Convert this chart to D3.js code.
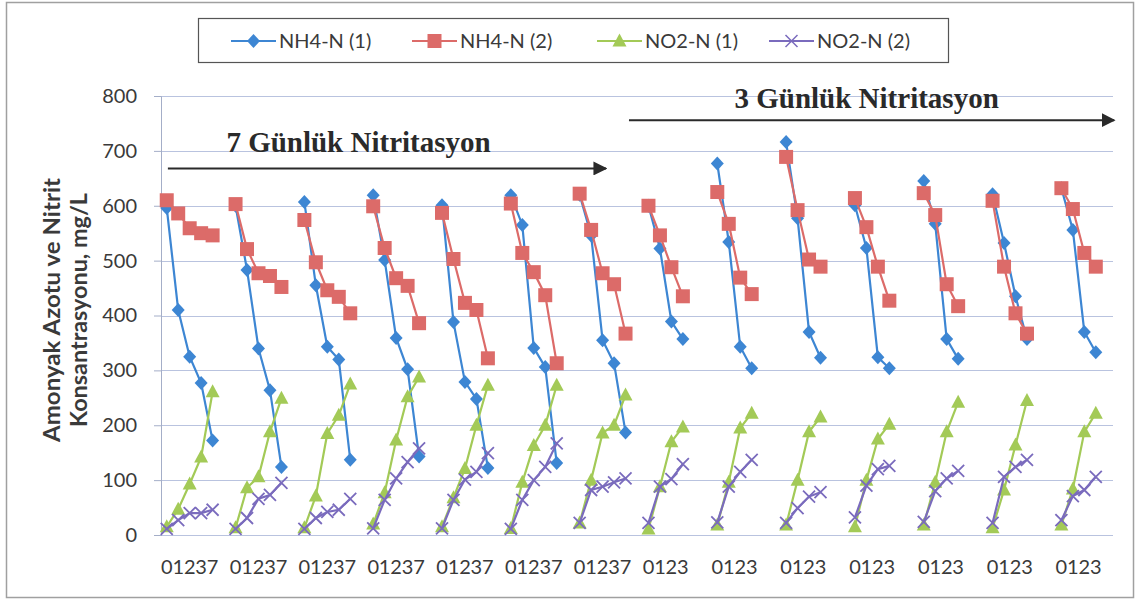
<!DOCTYPE html>
<html>
<head>
<meta charset="utf-8">
<script src="https://cdn.jsdelivr.net/npm/d3@7/dist/d3.min.js"></script>
<style>
	body { margin: 0; background: #fff; }
	svg { display: block; font-family: "Lato", sans-serif; }
</style>
</head>
<body>
<svg id="chart" width="1139" height="601"></svg>
<script>
// --- data ---
var days7 = ["0", "1", "2", "3", "7"];
var days3 = ["0", "1", "2", "3"];
var groupDays = [days7, days7, days7, days7, days7, days7, days7,
	days3, days3, days3, days3, days3, days3, days3];

var seriesNames = ["NH4-N (1)", "NH4-N (2)", "NO2-N (1)", "NO2-N (2)"];

var nh4n1 = [
	[596, 410, 325, 277, 172],
	[600, 483, 340, 264, 124],
	[607, 455, 343, 320, 137],
	[619, 501, 359, 302, 143],
	[601, 388, 279, 248, 122],
	[619, 565, 341, 306, 131],
	[620, 546, 355, 313, 187],
	[600, 522, 389, 357],
	[677, 534, 343, 304],
	[716, 577, 370, 323],
	[601, 523, 324, 304],
	[645, 567, 357, 321],
	[621, 532, 435, 357],
	[632, 556, 370, 333]
];
var nh4n2 = [
	[610, 586, 559, 550, 546],
	[603, 521, 477, 472, 452],
	[574, 497, 446, 434, 404],
	[599, 523, 468, 454, 386],
	[587, 503, 423, 410, 322],
	[604, 514, 479, 437, 313],
	[622, 556, 477, 457, 367],
	[600, 546, 488, 435],
	[625, 567, 469, 439],
	[689, 592, 502, 489],
	[614, 561, 489, 427],
	[623, 583, 457, 417],
	[609, 489, 404, 367],
	[632, 594, 514, 489]
];
var no2n1 = [
	[15, 47, 93, 142, 261],
	[13, 86, 106, 188, 249],
	[13, 71, 185, 218, 275],
	[20, 77, 173, 252, 288],
	[15, 68, 121, 200, 273],
	[12, 96, 163, 200, 273],
	[22, 100, 186, 200, 255],
	[11, 88, 170, 197],
	[18, 96, 195, 222],
	[18, 100, 188, 215],
	[15, 100, 175, 202],
	[18, 96, 188, 242],
	[13, 82, 164, 245],
	[18, 84, 188, 222]
];
var no2n2 = [
	[11, 27, 40, 40, 46],
	[11, 31, 66, 73, 95],
	[11, 31, 42, 46, 66],
	[12, 64, 103, 133, 158],
	[12, 64, 101, 115, 149],
	[11, 64, 100, 124, 167],
	[22, 82, 88, 96, 103],
	[22, 88, 102, 129],
	[23, 88, 115, 137],
	[22, 49, 70, 78],
	[32, 90, 120, 126],
	[24, 80, 103, 117],
	[22, 106, 124, 137],
	[27, 71, 82, 106]
];
var yTicks = [0, 100, 200, 300, 400, 500, 600, 700, 800];

// --- layout ---
var slotsPerGroup = 6;
var nSlots = groupDays.length * slotsPerGroup - 1;
var plot = { left: 161, right: 1113, top: 96, bottom: 535 };

var colors = ["#3d86d3", "#dc6b69", "#a3ca57", "#7a6bbd"];
var shapes = ["diamond", "square", "triangle", "cross"];
var allSeries = [nh4n1, nh4n2, no2n1, no2n2];

var svg = d3.select("#chart");

// slot labels: each day label sits in its own category, blanks between groups
var slotLabels = [];
groupDays.forEach(function(days, g) {
	for (var s = 0; s < slotsPerGroup; s++) {
		var idx = g * slotsPerGroup + s;
		if (idx < nSlots) slotLabels.push({ id: idx, label: days[s] || "" });
	}
});

var x = d3.scaleBand()
	.domain(slotLabels.map(function(d) { return d.id; }))
	.range([plot.left, plot.right]);
var xs = d3.scaleLinear().domain([-0.5, nSlots - 0.5]).range([plot.left, plot.right]);
var y = d3.scaleLinear().domain([0, 800]).range([plot.bottom, plot.top]);

function cx(g, s) { return x(g * slotsPerGroup + s) + x.bandwidth() / 2; }

// outer frame
svg.append("rect")
	.attr("x", 6.5).attr("y", 2.5).attr("width", 1127).attr("height", 595)
	.attr("fill", "none").attr("stroke", "#a0a0a0").attr("stroke-width", 1.5);

// gridlines
svg.append("g").selectAll("line")
	.data(yTicks)
	.enter().append("line")
		.attr("x1", plot.left).attr("x2", plot.right)
		.attr("y1", function(d) { return Math.round(y(d)) + 0.5; })
		.attr("y2", function(d) { return Math.round(y(d)) + 0.5; })
		.attr("stroke", "#b9c3df").attr("stroke-width", 1.2);

// y axis
var yAxis = svg.append("g")
	.attr("transform", "translate(" + plot.left + ",0)")
	.call(d3.axisLeft(y).tickValues(yTicks).tickSize(7).tickPadding(17));
yAxis.select(".domain").attr("stroke", "#a4aec8");
yAxis.selectAll(".tick line").attr("stroke", "#a4aec8");
yAxis.selectAll(".tick text")
	.attr("font-family", "Lato, sans-serif").attr("font-size", 20).attr("fill", "#3a3a3a");

// x axis labels, one character per category
var xAxis = svg.append("g")
	.attr("transform", "translate(0," + plot.bottom + ")")
	.call(d3.axisBottom(x)
		.tickSize(0).tickPadding(25)
		.tickFormat(function(d) { return slotLabels[d].label; }));
xAxis.select(".domain").remove();
xAxis.selectAll(".tick text")
	.attr("font-family", "Lato, sans-serif").attr("font-size", 20).attr("fill", "#3a3a3a");

// y axis title
var yTitle = svg.append("g").attr("font-family", "Lato, sans-serif")
	.attr("font-size", 23).attr("font-weight", "bold").attr("fill", "#3a3a3a")
	.attr("text-anchor", "middle");
yTitle.append("text")
	.attr("transform", "translate(60,310) rotate(-90)")
	.attr("textLength", 264).attr("lengthAdjust", "spacingAndGlyphs")
	.text("Amonyak Azotu ve Nitrit");
yTitle.append("text")
	.attr("transform", "translate(87,310) rotate(-90)")
	.attr("textLength", 234).attr("lengthAdjust", "spacingAndGlyphs")
	.text("Konsantrasyonu, mg/L");

// marker paths
function markerPath(shape) {
	if (shape === "diamond") return "M0,-7L6.5,0L0,7L-6.5,0Z";
	if (shape === "square") return "M-7,-7H7V7H-7Z";
	if (shape === "triangle") return "M0,-7.5L7,5.5H-7Z";
	return "M-6,-6L6,6M-6,6L6,-6";
}

var line = d3.line()
	.x(function(d) { return d.x; })
	.y(function(d) { return y(d.v); });

allSeries.forEach(function(series, si) {
	var g = svg.append("g").attr("class", "series-" + si);
	series.forEach(function(vals, gi) {
		var pts = vals.map(function(v, s) { return { x: cx(gi, s), v: v }; });
		g.append("path")
			.datum(pts)
			.attr("d", line)
			.attr("fill", "none")
			.attr("stroke", colors[si])
			.attr("stroke-width", 2.2);
		g.selectAll(null)
			.data(pts)
			.enter().append("path")
				.attr("transform", function(d) { return "translate(" + d.x + "," + y(d.v) + ")"; })
				.attr("d", markerPath(shapes[si]))
				.attr("fill", shapes[si] === "cross" ? "none" : colors[si])
				.attr("stroke", colors[si])
				.attr("stroke-width", shapes[si] === "cross" ? 1.8 : 0);
	});
});

// annotations
svg.append("defs").append("marker")
	.attr("id", "arrowhead")
	.attr("viewBox", "0 -5 10 10")
	.attr("refX", 9).attr("refY", 0)
	.attr("markerWidth", 7).attr("markerHeight", 7)
	.attr("markerUnits", "strokeWidth")
	.attr("orient", "auto")
	.attr("fill", "#2a2a2a")
	.append("path").attr("d", "M0,-5L10,0L0,5Z");

var notes = [
	{ text: "7 Günlük Nitritasyon", tx: 5.2, ty: 698, x1: 0.1, x2: 38.3, ay: 668 },
	{ text: "3 Günlük Nitritasyon", tx: 49.5, ty: 778, x1: 40.3, x2: 82.6, ay: 756 }
];
notes.forEach(function(n) {
	svg.append("text")
		.attr("x", xs(n.tx)).attr("y", y(n.ty))
		.attr("font-family", "'Liberation Serif', 'Times New Roman', serif")
		.attr("font-weight", "bold").attr("font-size", 29).attr("fill", "#2a2a2a")
		.text(n.text);
	svg.append("line")
		.attr("x1", xs(n.x1)).attr("x2", xs(n.x2))
		.attr("y1", y(n.ay)).attr("y2", y(n.ay))
		.attr("stroke", "#2a2a2a").attr("stroke-width", 2)
		.attr("marker-end", "url(#arrowhead)");
});

// legend
var legend = svg.append("g");
legend.append("rect")
	.attr("x", 198.5).attr("y", 18.5).attr("width", 750).attr("height", 44)
	.attr("fill", "#fff").attr("stroke", "#555").attr("stroke-width", 1.2);
var legendX = [231, 412, 597, 769];
seriesNames.forEach(function(name, i) {
	var item = legend.append("g").attr("transform", "translate(" + legendX[i] + ",41)");
	item.append("line")
		.attr("x1", 0).attr("x2", 45)
		.attr("stroke", colors[i]).attr("stroke-width", 2.2);
	item.append("path")
		.attr("transform", "translate(22.5,0)")
		.attr("d", markerPath(shapes[i]))
		.attr("fill", shapes[i] === "cross" ? "none" : colors[i])
		.attr("stroke", colors[i])
		.attr("stroke-width", shapes[i] === "cross" ? 1.5 : 0);
	item.append("text")
		.attr("x", 48).attr("y", 7)
		.attr("font-family", "Lato, sans-serif").attr("font-size", 20).attr("fill", "#3a3a3a")
		.text(name);
});
</script>
</body>
</html>
